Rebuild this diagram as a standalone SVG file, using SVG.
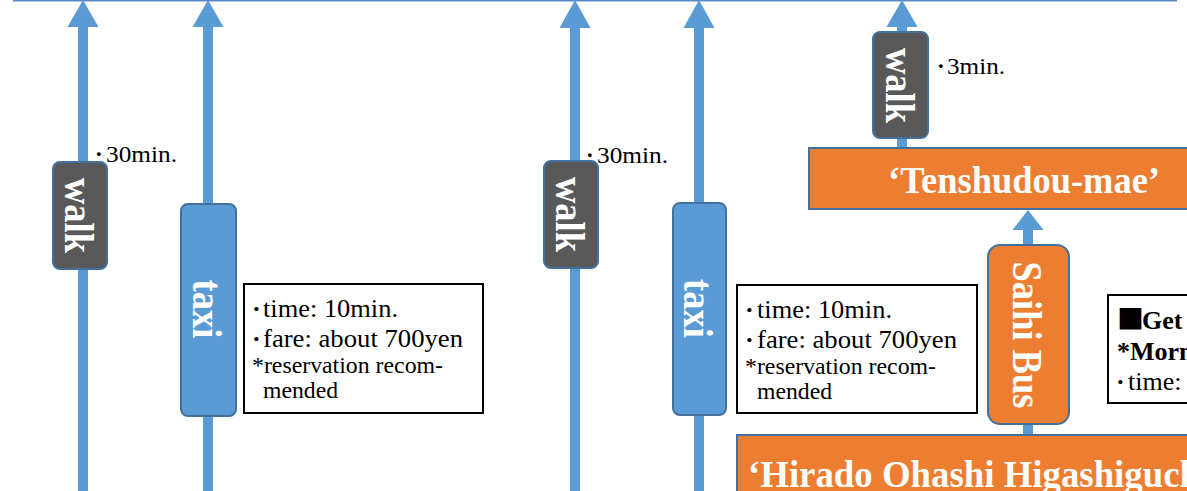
<svg xmlns="http://www.w3.org/2000/svg" width="1187" height="491" viewBox="0 0 1187 491">
<style>
.shaft{stroke:#5b9bd5;stroke-width:10;fill:none}
.head{fill:#5b9bd5}
.walk{fill:#595959;stroke:#41719c;stroke-width:2}
.taxi{fill:#5b9bd5;stroke:#41719c;stroke-width:2}
.orange{fill:#ed7d31;stroke:#41719c;stroke-width:2}
.info{fill:#ffffff;stroke:#000000;stroke-width:2}
.vt{font-family:"Liberation Serif","Times New Roman",serif;font-weight:bold;font-size:36.5px;fill:#ffffff;text-anchor:middle}
.big{font-family:"Liberation Serif","Times New Roman",serif;font-weight:bold;font-size:37px;fill:#ffffff}
.t{font-family:"Liberation Serif","Times New Roman",serif;font-size:26px;fill:#000000}
.s{font-family:"Liberation Serif","Times New Roman",serif;font-size:24px;fill:#000000}
.tb{font-family:"Liberation Serif","Times New Roman","Noto Sans CJK JP",serif;font-size:26px;font-weight:bold;fill:#000000}
.m{font-family:"Liberation Serif","Times New Roman",serif;font-size:23px;fill:#000000}
.sq{font-family:"Noto Sans CJK JP","DejaVu Sans",sans-serif;font-size:27px;font-weight:normal}
.dot{font-weight:bold}
</style>
<line x1="13" y1="0.5" x2="1177" y2="0.5" stroke="#5a8ac6" stroke-width="2"/>
<g id="connectors">
<line class="shaft" x1="83" y1="26" x2="83" y2="491"/>
<polygon class="head" points="83,0 67.5,27 98.5,27"/>
<line class="shaft" x1="208" y1="26" x2="208" y2="491"/>
<polygon class="head" points="208,0 192.5,27 223.5,27"/>
<line class="shaft" x1="575" y1="26" x2="575" y2="491"/>
<polygon class="head" points="575,0 559.5,28 590.5,28"/>
<line class="shaft" x1="699" y1="26" x2="699" y2="491"/>
<polygon class="head" points="699,0 683.5,28 714.5,28"/>
<line class="shaft" x1="902" y1="26" x2="902" y2="150"/>
<polygon class="head" points="902,0 886.5,27 917.5,27"/>
<line class="shaft" x1="1028" y1="229" x2="1028" y2="247"/>
<polygon class="head" points="1028,210 1012.5,230 1043.5,230"/>
<line class="shaft" x1="1028" y1="422" x2="1028" y2="437"/>
</g>
<g id="walk1">
<rect class="walk" x="53" y="162" width="54" height="107" rx="7"/>
<text class="vt" transform="translate(65,215.5) rotate(90) scale(1,1.15)">walk</text>
</g>
<text id="walk1-time" class="m" x="95" y="162"><tspan class="dot">·</tspan><tspan x="106" textLength="71" lengthAdjust="spacingAndGlyphs">30min.</tspan></text>
<g id="taxi1">
<rect class="taxi" x="181" y="204" width="55" height="212" rx="7"/>
<text class="vt" transform="translate(193,309) rotate(90) scale(1,1.15)">taxi</text>
</g>
<g id="info1">
<rect class="info" x="244" y="284" width="239" height="129"/>
<text class="t" x="252" y="317"><tspan class="dot">·</tspan><tspan x="263" textLength="135" lengthAdjust="spacingAndGlyphs">time: 10min.</tspan></text>
<text class="t" x="252" y="347"><tspan class="dot">·</tspan><tspan x="263" textLength="200" lengthAdjust="spacingAndGlyphs">fare: about 700yen</tspan></text>
<text class="s" x="252" y="373" textLength="191" lengthAdjust="spacingAndGlyphs">*reservation recom-</text>
<text class="s" x="263" y="398" textLength="75" lengthAdjust="spacingAndGlyphs">mended</text>
</g>
<g id="walk2">
<rect class="walk" x="544" y="161" width="54" height="107" rx="7"/>
<text class="vt" transform="translate(556,214.5) rotate(90) scale(1,1.15)">walk</text>
</g>
<text id="walk2-time" class="m" x="586" y="163"><tspan class="dot">·</tspan><tspan x="597" textLength="71" lengthAdjust="spacingAndGlyphs">30min.</tspan></text>
<g id="taxi2">
<rect class="taxi" x="673" y="203" width="53" height="212" rx="7"/>
<text class="vt" transform="translate(684,308.5) rotate(90) scale(1,1.15)">taxi</text>
</g>
<g id="info2">
<rect class="info" x="737" y="285" width="240" height="128"/>
<text class="t" x="745" y="318"><tspan class="dot">·</tspan><tspan x="757" textLength="135" lengthAdjust="spacingAndGlyphs">time: 10min.</tspan></text>
<text class="t" x="745" y="348"><tspan class="dot">·</tspan><tspan x="757" textLength="200" lengthAdjust="spacingAndGlyphs">fare: about 700yen</tspan></text>
<text class="s" x="745" y="374" textLength="191" lengthAdjust="spacingAndGlyphs">*reservation recom-</text>
<text class="s" x="757" y="399" textLength="75" lengthAdjust="spacingAndGlyphs">mended</text>
</g>
<g id="walk3">
<rect class="walk" x="873" y="32" width="55" height="106" rx="7"/>
<text class="vt" transform="translate(886,85.5) rotate(90) scale(1,1.15)">walk</text>
</g>
<text id="walk3-time" class="m" x="937" y="74"><tspan class="dot">·</tspan><tspan x="947" textLength="58" lengthAdjust="spacingAndGlyphs">3min.</tspan></text>
<g id="tenshudou">
<rect class="orange" x="809" y="148" width="400" height="61"/>
<text class="big" x="888" y="193" textLength="272" lengthAdjust="spacingAndGlyphs">‘Tenshudou-mae’</text>
</g>
<g id="saihi">
<rect class="orange" x="988" y="245" width="81" height="179" rx="12"/>
<text class="vt" transform="translate(1013,335) rotate(90) scale(1,1.15)">Saihi Bus</text>
</g>
<g id="get">
<rect class="info" x="1108" y="295" width="100" height="108"/>
<text class="tb" x="1117" y="329"><tspan class="sq">■</tspan><tspan x="1142">Get</tspan></text>
<text class="tb" x="1117" y="360">*Morn</text>
<text class="t" x="1116" y="390"><tspan class="dot">·</tspan><tspan x="1128">time:</tspan></text>
</g>
<g id="hirado">
<rect class="orange" x="737" y="435" width="470" height="70"/>
<text class="big" x="748" y="487" textLength="452" lengthAdjust="spacingAndGlyphs">‘Hirado Ohashi Higashiguch</text>
</g>
</svg>
